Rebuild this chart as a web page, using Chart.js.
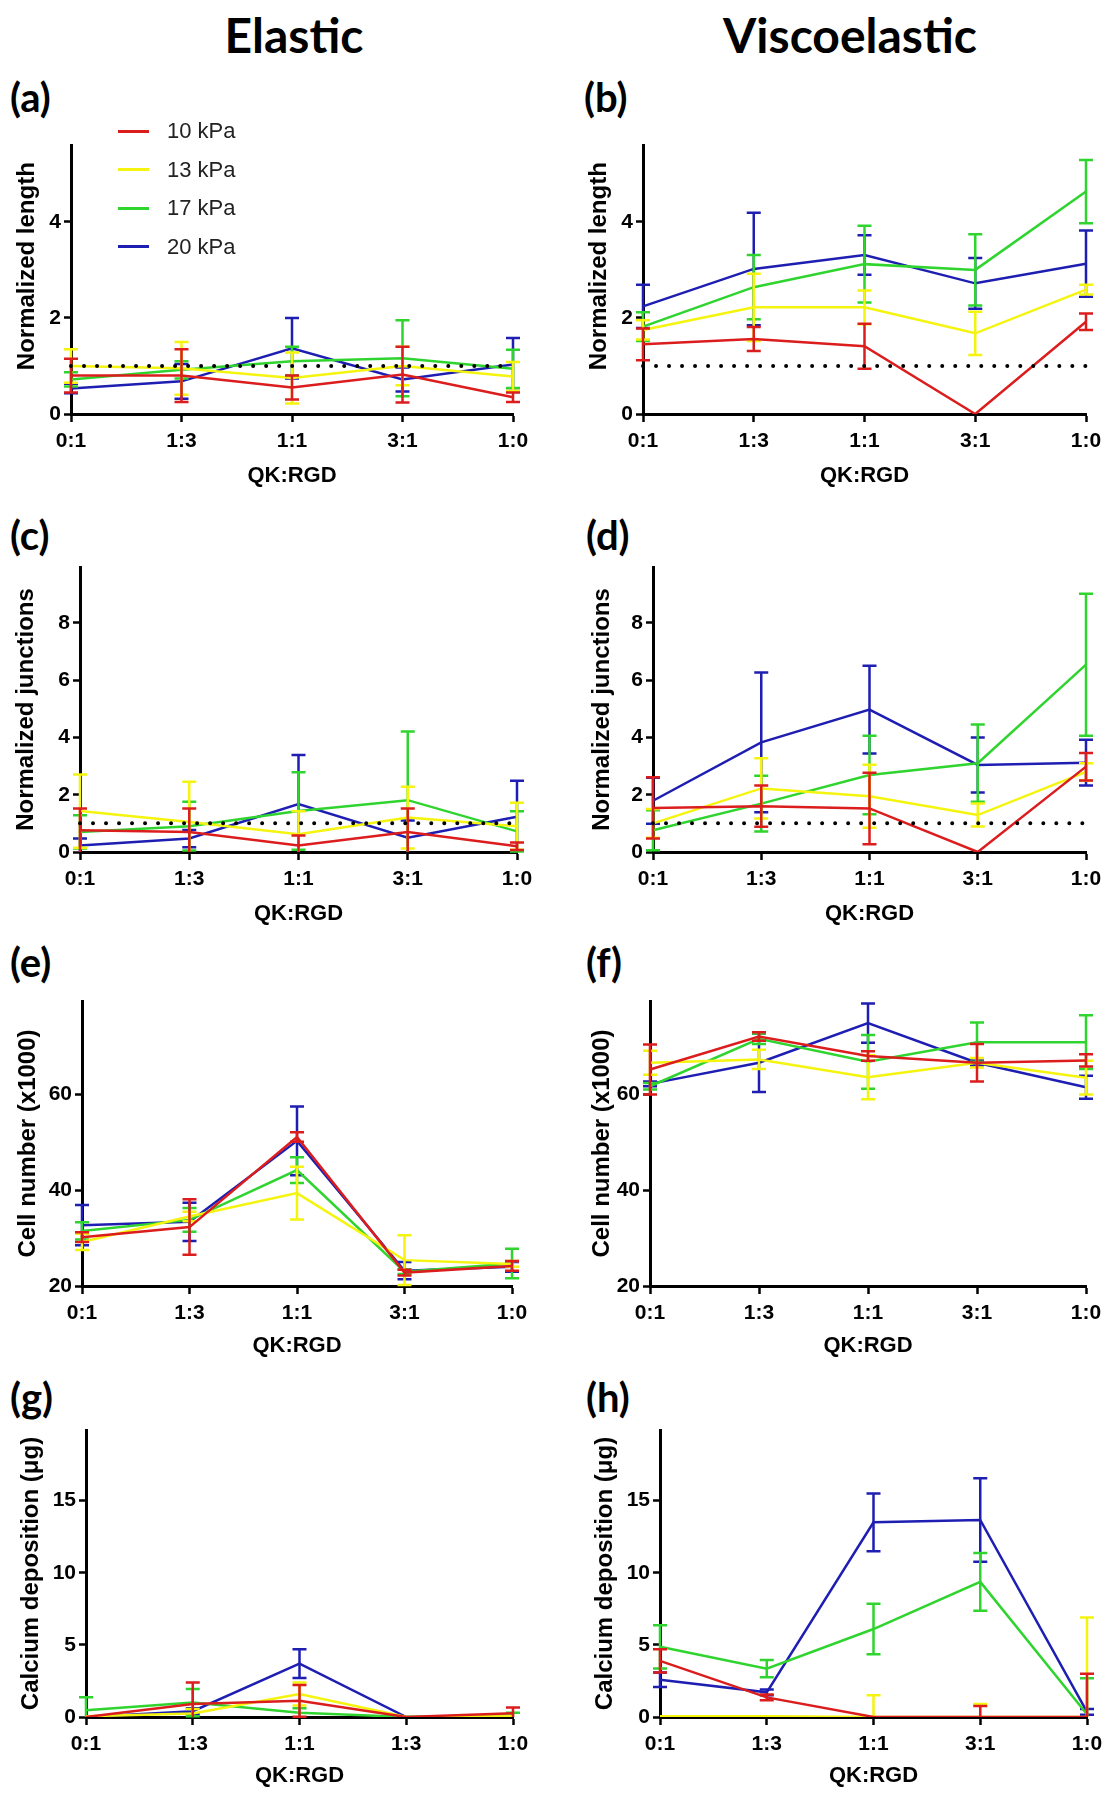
<!DOCTYPE html>
<html>
<head>
<meta charset="utf-8">
<script src="https://cdn.jsdelivr.net/npm/chart.js@4.4.1/dist/chart.umd.min.js"></script>
<style>
  body { margin: 0; width: 1116px; height: 1800px; position: relative; background: #fff; overflow: hidden; }
  canvas { position: absolute; }
  .head { position: absolute; font-family: Lato, sans-serif; font-weight: 700; font-size: 48px; color: #000; transform: translate(-50%, -50%); white-space: nowrap; }
  .tag { position: absolute; font-family: Lato, sans-serif; font-weight: 700; font-size: 40px; color: #000; transform: translateY(-50%); }
  #legend { position: absolute; left: 118px; top: 112px; font-family: "Liberation Sans", Arial, sans-serif; font-size: 22px; color: #222; }
  .item { height: 38.5px; display: flex; align-items: center; }
  .swatch { width: 31px; height: 3px; margin-right: 18px; }
</style>
</head>
<body>
<div class="head" style="left:294px;top:34px">Elastic</div>
<div class="head" style="left:850px;top:34px">Viscoelastic</div>

<div class="tag" style="left:10px;top:97px">(a)</div>
<div class="tag" style="left:584px;top:97px">(b)</div>
<div class="tag" style="left:10px;top:535px">(c)</div>
<div class="tag" style="left:586px;top:535px">(d)</div>
<div class="tag" style="left:10px;top:962px">(e)</div>
<div class="tag" style="left:586px;top:962px">(f)</div>
<div class="tag" style="left:10px;top:1397px">(g)</div>
<div class="tag" style="left:586px;top:1397px">(h)</div>

<canvas id="chartA" width="558" height="369" style="left:0;top:120px"></canvas>
<canvas id="chartB" width="558" height="369" style="left:558px;top:120px"></canvas>
<canvas id="chartC" width="558" height="387" style="left:0;top:540px"></canvas>
<canvas id="chartD" width="558" height="387" style="left:558px;top:540px"></canvas>
<canvas id="chartE" width="558" height="384" style="left:0;top:975px"></canvas>
<canvas id="chartF" width="558" height="384" style="left:558px;top:975px"></canvas>
<canvas id="chartG" width="558" height="384" style="left:0;top:1405px"></canvas>
<canvas id="chartH" width="558" height="384" style="left:558px;top:1405px"></canvas>

<div id="legend"></div>

<script>
const ratios = ['0:1', '1:3', '1:1', '3:1', '1:0'];
const ratiosG = ['0:1', '1:3', '1:1', '1:3', '1:0'];
const stiffness = ['10 kPa', '13 kPa', '17 kPa', '20 kPa'];
const colors = ['#dc1d1d', '#f4f40e', '#2fd42f', '#1e1eb2'];
const refLine = [1, 1, 1, 1, 1];

// rows: 10, 13, 17, 20 kPa
const lengthElastic = [
  [0.80, 0.80, 0.55, 0.82, 0.35],
  [1.00, 0.95, 0.75, 1.00, 0.78],
  [0.72, 0.92, 1.10, 1.16, 0.94],
  [0.53, 0.68, 1.37, 0.72, 1.03],
];
const lengthElasticErr = [
  [0.35, 0.55, 0.25, 0.58, 0.10],
  [0.35, 0.55, 0.53, 0.40, 0.30],
  [0.15, 0.18, 0.30, 0.79, 0.40],
  [0.10, 0.36, 0.63, 0.25, 0.55],
];
const lengthVisco = [
  [1.45, 1.56, 1.41, 0, 1.92],
  [1.75, 2.22, 2.22, 1.68, 2.59],
  [1.82, 2.64, 3.12, 3.00, 4.63],
  [2.24, 3.02, 3.31, 2.72, 3.13],
];
const lengthViscoErr = [
  [0.33, 0.25, 0.47, 0, 0.17],
  [0.20, 0.70, 0.35, 0.45, 0.10],
  [0.30, 0.67, 0.80, 0.74, 0.66],
  [0.45, 1.17, 0.41, 0.53, 0.69],
];
const junctionsElastic = [
  [0.76, 0.70, 0.23, 0.70, 0.20],
  [1.43, 1.05, 0.62, 1.20, 0.90],
  [0.70, 0.90, 1.43, 1.81, 0.72],
  [0.23, 0.47, 1.67, 0.50, 1.23],
];
const junctionsElasticErr = [
  [0.76, 0.82, 0.35, 0.82, 0.13],
  [1.28, 1.40, 0.80, 1.08, 0.82],
  [0.58, 0.85, 1.35, 2.40, 0.70],
  [0.24, 0.30, 1.72, 0.60, 1.26],
];
const junctionsVisco = [
  [1.54, 1.60, 1.52, 0, 2.98],
  [1.00, 2.22, 1.95, 1.29, 2.80],
  [0.76, 1.69, 2.69, 3.10, 6.54],
  [1.79, 3.83, 4.97, 3.04, 3.12],
];
const junctionsViscoErr = [
  [1.07, 0.72, 1.25, 0, 0.48],
  [0.50, 1.05, 1.10, 0.40, 0.30],
  [0.70, 0.97, 1.37, 1.35, 2.48],
  [0.80, 2.44, 1.53, 0.96, 0.80],
];
const cellsElastic = [
  [30.2, 32.3, 51.1, 22.8, 24.2],
  [29.2, 34.5, 39.4, 25.4, 24.6],
  [31.5, 33.8, 44.2, 23.0, 24.7],
  [32.7, 33.4, 50.3, 23.2, 24.0],
];
const cellsElasticErr = [
  [1.0, 5.8, 1.0, 0.6, 1.0],
  [1.7, 1.0, 5.5, 5.2, 0.6],
  [1.8, 2.5, 2.7, 0.5, 3.1],
  [4.2, 4.0, 7.2, 1.8, 1.0],
];
const cellsVisco = [
  [65.2, 72.1, 68.0, 66.6, 67.1],
  [66.6, 67.3, 63.6, 66.6, 63.5],
  [61.7, 71.6, 66.8, 70.9, 70.9],
  [62.2, 66.6, 74.9, 66.6, 61.5],
];
const cellsViscoErr = [
  [5.2, 0.9, 1.0, 3.9, 1.3],
  [2.5, 2.0, 4.6, 1.0, 3.5],
  [0.7, 1.1, 5.6, 4.1, 5.6],
  [0.5, 6.1, 4.1, 0.5, 2.4],
];
const calciumElastic = [
  [0, 0.90, 1.12, 0, 0.26],
  [0.05, 0.25, 1.60, 0, 0.05],
  [0.47, 1.00, 0.30, 0, 0.10],
  [0, 0.40, 3.70, 0, 0],
];
const calciumElasticErr = [
  [0, 1.5, 1.1, 0, 0.4],
  [0, 0.3, 0.8, 0, 0],
  [0.9, 0.95, 0.3, 0, 0.2],
  [0, 0.2, 1.0, 0, 0],
];
const calciumVisco = [
  [3.89, 1.36, 0, 0, 0],
  [0.05, 0.05, 0, 0, 0],
  [4.87, 3.35, 6.10, 9.37, 0.19],
  [2.58, 1.71, 13.50, 13.66, 0.35],
];
const calciumViscoErr = [
  [0.8, 0.2, 0, 0.77, 3.0],
  [0, 0, 1.5, 0.9, 6.9],
  [1.5, 0.6, 1.75, 2.0, 2.5],
  [0.5, 0.2, 2.0, 2.9, 0.2],
];

// legend (only drawn in panel a)
const legend = document.getElementById('legend');
stiffness.forEach((name, i) => {
  const row = document.createElement('div');
  row.className = 'item';
  row.innerHTML = `<span class="swatch" style="background:${colors[i]}"></span>${name}`;
  legend.appendChild(row);
});

// error bars drawn right after each line so they stack the same way
const errorBars = {
  id: 'errorBars',
  afterDatasetDraw(chart, args) {
    const ds = chart.data.datasets[args.index];
    if (!ds.errors) return;
    const ctx = chart.ctx;
    const xs = chart.scales.x;
    const ys = chart.scales.y;
    ctx.save();
    ctx.strokeStyle = ds.borderColor;
    ctx.lineWidth = 2.5;
    ds.data.forEach((v, i) => {
      const e = ds.errors[i];
      if (!e) return;
      const x = xs.getPixelForValue(i);
      const top = ys.getPixelForValue(v + e);
      const low = Math.max(v - e, ys.min);
      const bot = ys.getPixelForValue(low);
      ctx.beginPath();
      ctx.moveTo(x, top);
      ctx.lineTo(x, bot);
      ctx.moveTo(x - 7, top);
      ctx.lineTo(x + 7, top);
      if (v - e > ys.min) {
        ctx.moveTo(x - 7, bot);
        ctx.lineTo(x + 7, bot);
      }
      ctx.stroke();
    });
    ctx.restore();
  },
};

const arial = '"Liberation Sans", Arial, sans-serif';
const tickFont = { family: arial, size: 21, weight: 'bold' };

function panel(id, box, labels, means, errs, yMin, yMax, yStep, yTitle, withRef) {
  const canvas = document.getElementById(id);
  const datasets = [];
  if (withRef) {
    datasets.push({
      data: refLine,
      borderColor: '#000',
      borderWidth: 4,
      borderDash: [0.01, 13],
      borderCapStyle: 'round',
      pointRadius: 0,
    });
  }
  means.forEach((row, i) => {
    datasets.push({
      label: stiffness[i],
      data: row,
      errors: errs[i],
      borderColor: colors[i],
      borderWidth: 2.5,
      pointRadius: 0,
      tension: 0,
    });
  });

  new Chart(canvas, {
    type: 'line',
    data: { labels, datasets },
    plugins: [errorBars],
    options: {
      responsive: false,
      animation: false,
      layout: { padding: { left: box.tl, right: canvas.width - box.R, top: box.T, bottom: 0 } },
      plugins: { legend: { display: false }, tooltip: { enabled: false } },
      scales: {
        x: {
          offset: false,
          afterFit: (s) => { s.height = canvas.height - box.B; },
          grid: { display: true, drawOnChartArea: false, tickLength: 8, tickWidth: 2.5, tickColor: '#000' },
          border: { display: true, color: '#000', width: 3 },
          ticks: { color: '#000', font: tickFont, padding: 7, maxRotation: 0, autoSkip: false },
          title: { display: true, text: 'QK:RGD', color: '#000', padding: 0,
                   font: { family: arial, size: 22, weight: 'bold' } },
        },
        y: {
          min: yMin,
          max: yMax,
          afterFit: (s) => { s.width = box.L - box.tl; },
          grid: { display: true, drawOnChartArea: false, tickLength: 7, tickWidth: 2.5, tickColor: '#000' },
          border: { display: true, color: '#000', width: 3 },
          ticks: { stepSize: yStep, includeBounds: false, color: '#000', font: tickFont, padding: 3 },
          title: { display: true, text: yTitle, color: '#000', padding: 0,
                   font: { family: arial, size: 24, weight: 'bold' } },
        },
      },
    },
  });
}

// leading spaces nudge the row-1 axis titles up a little, as in the original
const lengthTitle = '\u00a0\u00a0\u00a0\u00a0Normalized length';

panel('chartA', { L: 71, R: 513, T: 25, B: 294, tl: 13 }, ratios, lengthElastic, lengthElasticErr, 0, 5.6, 2, lengthTitle, true);
panel('chartB', { L: 85, R: 528, T: 25, B: 294, tl: 27 }, ratios, lengthVisco, lengthViscoErr, 0, 5.6, 2, lengthTitle, true);
panel('chartC', { L: 80, R: 517, T: 27, B: 312, tl: 12 }, ratios, junctionsElastic, junctionsElasticErr, 0, 9.95, 2, 'Normalized junctions', true);
panel('chartD', { L: 95, R: 528, T: 27, B: 312, tl: 30 }, ratios, junctionsVisco, junctionsViscoErr, 0, 9.95, 2, 'Normalized junctions', true);
panel('chartE', { L: 82, R: 512, T: 26, B: 311, tl: 14 }, ratios, cellsElastic, cellsElasticErr, 20, 79.5, 20, 'Cell number (x1000)', false);
panel('chartF', { L: 92, R: 528, T: 26, B: 311, tl: 30 }, ratios, cellsVisco, cellsViscoErr, 20, 79.5, 20, 'Cell number (x1000)', false);
panel('chartG', { L: 86, R: 513, T: 25, B: 312, tl: 17 }, ratiosG, calciumElastic, calciumElasticErr, 0, 19.9, 5, 'Calcium deposition (μg)', false);
panel('chartH', { L: 102, R: 529, T: 25, B: 312, tl: 33 }, ratios, calciumVisco, calciumViscoErr, 0, 19.9, 5, 'Calcium deposition (μg)', false);
</script>
</body>
</html>
